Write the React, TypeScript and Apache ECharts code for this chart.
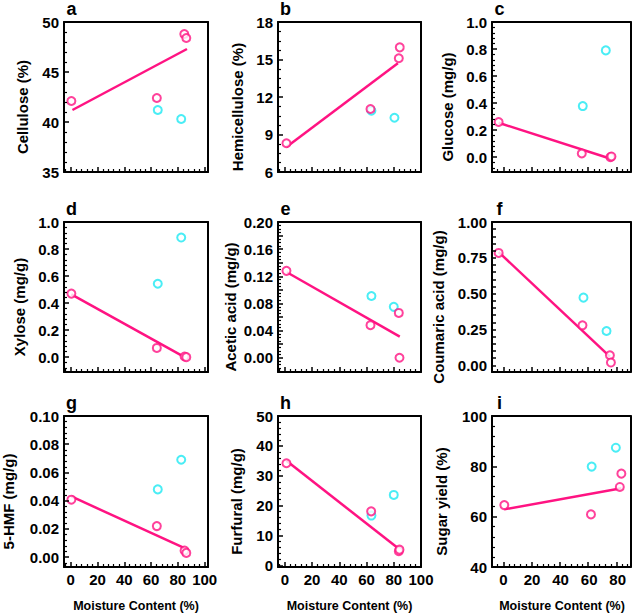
import React, { useEffect, useRef } from 'react';
import * as echarts from 'echarts';

const PINK = '#FF1382';
const CYAN = '#1DE9F2';
const FONT = "'Liberation Sans', Arial, Helvetica, sans-serif";

// ---- Data ----
const xName = 'Moisture Content (%)';
const xTickLabels = [0, 20, 40, 60, 80, 100];

// a  Cellulose
const aPinkX = [0.5, 64.3, 84.8, 86.3];
const aPinkY = [42.1, 42.4, 48.8, 48.4];
const aCyanX = [65, 82.5];
const aCyanY = [41.2, 40.3];
const aFitX = [1.3, 86.8];
const aFitY = [41.2, 47.3];
const aTicks = [35, 40, 45, 50];

// b  Hemicellulose
const bPinkX = [1.2, 62.9, 83.7, 84.4];
const bPinkY = [8.3, 11.04, 15.1, 15.97];
const bCyanX = [63.6, 80.5];
const bCyanY = [10.9, 10.34];
const bFitX = [1.2, 83];
const bFitY = [8.0, 14.7];
const bTicks = [6, 9, 12, 15, 18];

// c  Glucose
const cPinkX = [-3.3, 55.5, 75.8, 76.5];
const cPinkY = [0.26, 0.027, 0.0, 0.005];
const cCyanX = [56.2, 72.5];
const cCyanY = [0.378, 0.79];
const cFitX = [-3.3, 75.4];
const cFitY = [0.254, -0.01];
const cTicks = [0.0, 0.2, 0.4, 0.6, 0.8, 1.0];

// d  Xylose
const dPinkX = [0.5, 64.3, 85, 86.3];
const dPinkY = [0.47, 0.068, 0.005, 0.0];
const dCyanX = [65, 82.5];
const dCyanY = [0.543, 0.885];
const dFitX = [0.5, 85];
const dFitY = [0.464, 0.0];
const dTicks = [0.0, 0.2, 0.4, 0.6, 0.8, 1.0];

// e  Acetic acid
const ePinkX = [1.2, 62.9, 83.7, 84.2];
const ePinkY = [0.128, 0.048, 0.066, 0.0];
const eCyanX = [63.6, 80];
const eCyanY = [0.091, 0.075];
const eFitX = [1.5, 84.4];
const eFitY = [0.126, 0.031];
const eTicks = [0.0, 0.04, 0.08, 0.12, 0.16, 0.2];

// f  Coumaric acid
const fPinkX = [-3.3, 56, 75.4, 76.1];
const fPinkY = [0.784, 0.279, 0.07, 0.019];
const fCyanX = [56.7, 73];
const fCyanY = [0.472, 0.239];
const fFitX = [-3.3, 75.4];
const fFitY = [0.79, 0.06];
const fTicks = [0.0, 0.25, 0.5, 0.75, 1.0];

// g  5-HMF
const gPinkX = [0.5, 64.3, 85, 86.3];
const gPinkY = [0.0407, 0.022, 0.0046, 0.003];
const gCyanX = [65, 82.5];
const gCyanY = [0.048, 0.069];
const gFitX = [0.5, 85];
const gFitY = [0.043, 0.0063];
const gTicks = [0.0, 0.02, 0.04, 0.06, 0.08, 0.1];

// h  Furfural
const hPinkX = [1.2, 63.4, 83.7, 84.2];
const hPinkY = [34.2, 18.1, 4.8, 5.3];
const hCyanX = [63.6, 80];
const hCyanY = [16.7, 23.6];
const hFitX = [1.2, 83.7];
const hFitY = [35, 5.6];
const hTicks = [0, 10, 20, 30, 40, 50];

// i  Sugar yield
const iPinkX = [0.7, 62, 82.4, 83.5];
const iPinkY = [64.6, 60.9, 71.8, 77.1];
const iCyanX = [62.5, 79.6];
const iCyanY = [79.9, 87.4];
const iFitX = [0.7, 83.5];
const iFitY = [62.9, 71.3];
const iTicks = [40, 60, 80, 100];

const zip = (xs: number[], ys: number[]) => xs.map((x, k) => [x, ys[k]]);

type Panel = {
  letter: string; yName: string;
  pinkX: number[]; pinkY: number[]; cyanX: number[]; cyanY: number[];
  fitX: number[]; fitY: number[]; ticks: number[];
  yMin: number; yMax: number; dec: number; nameGap: number;
  split: number; minor: number;
};

const panels: Panel[] = [
  { letter: 'a', yName: 'Cellulose (%)', pinkX: aPinkX, pinkY: aPinkY, cyanX: aCyanX, cyanY: aCyanY, fitX: aFitX, fitY: aFitY, ticks: aTicks, yMin: 35, yMax: 50, dec: 0, nameGap: 34.5, split: 3, minor: 5 },
  { letter: 'b', yName: 'Hemicellulose (%)', pinkX: bPinkX, pinkY: bPinkY, cyanX: bCyanX, cyanY: bCyanY, fitX: bFitX, fitY: bFitY, ticks: bTicks, yMin: 6, yMax: 18, dec: 0, nameGap: 33, split: 4, minor: 4 },
  { letter: 'c', yName: 'Glucose (mg/g)', pinkX: cPinkX, pinkY: cPinkY, cyanX: cCyanX, cyanY: cCyanY, fitX: cFitX, fitY: cFitY, ticks: cTicks, yMin: -0.11, yMax: 1.0, dec: 1, nameGap: 37.5, split: 5, minor: 5 },
  { letter: 'd', yName: 'Xylose (mg/g)', pinkX: dPinkX, pinkY: dPinkY, cyanX: dCyanX, cyanY: dCyanY, fitX: dFitX, fitY: dFitY, ticks: dTicks, yMin: -0.11, yMax: 1.0, dec: 1, nameGap: 37, split: 5, minor: 5 },
  { letter: 'e', yName: 'Acetic acid (mg/g)', pinkX: ePinkX, pinkY: ePinkY, cyanX: eCyanX, cyanY: eCyanY, fitX: eFitX, fitY: eFitY, ticks: eTicks, yMin: -0.021, yMax: 0.2, dec: 2, nameGap: 39.7, split: 10, minor: 4 },
  { letter: 'f', yName: 'Coumaric acid (mg/g)', pinkX: fPinkX, pinkY: fPinkY, cyanX: fCyanX, cyanY: fCyanY, fitX: fFitX, fitY: fFitY, ticks: fTicks, yMin: -0.047, yMax: 1.0, dec: 2, nameGap: 46, split: 20, minor: 0 },
  { letter: 'g', yName: '5-HMF (mg/g)', pinkX: gPinkX, pinkY: gPinkY, cyanX: gCyanX, cyanY: gCyanY, fitX: gFitX, fitY: gFitY, ticks: gTicks, yMin: -0.007, yMax: 0.1, dec: 2, nameGap: 48, split: 5, minor: 5 },
  { letter: 'h', yName: 'Furfural (mg/g)', pinkX: hPinkX, pinkY: hPinkY, cyanX: hCyanX, cyanY: hCyanY, fitX: hFitX, fitY: hFitY, ticks: hTicks, yMin: -0.5, yMax: 50, dec: 0, nameGap: 34, split: 5, minor: 5 },
  { letter: 'i', yName: 'Sugar yield (%)', pinkX: iPinkX, pinkY: iPinkY, cyanX: iCyanX, cyanY: iCyanY, fitX: iFitX, fitY: iFitY, ticks: iTicks, yMin: 40, yMax: 100, dec: 0, nameGap: 43, split: 3, minor: 5 },
];

// ---- Layout ----
const colLeft = [64, 278, 492];
const colWidth = [144, 143, 140];
const rowTop = [22, 222, 416];
const rowHeight = [150, 150, 151];
const colXRange = [[-5, 102.5], [-5, 100], [-8, 90]];

function buildOption() {
  const grid: any[] = [];
  const xAxis: any[] = [];
  const yAxis: any[] = [];
  const series: any[] = [];
  const graphic: any[] = [];
  const labelStyle = { color: '#000', fontSize: 15, fontWeight: 'bold', fontFamily: FONT };
  const hiddenLabel = { show: true, color: 'rgba(0,0,0,0)', fontSize: 8, margin: 4 };
  const frameLine = { color: '#000', width: 2 };
  const tickLine = { color: '#000', width: 1.5 };
  const minorLine = { color: '#000', width: 1.2 };

  panels.forEach((p, idx) => {
    const row = Math.floor(idx / 3);
    const col = idx % 3;
    const [xMin, xMax] = colXRange[col];
    const rect = { left: colLeft[col], top: rowTop[row], width: colWidth[col], height: rowHeight[row] };
    const gA = idx * 2; // ticks, frame, series
    const gB = idx * 2 + 1; // tick labels and names
    grid.push({ ...rect, show: false });
    grid.push({ ...rect, show: false });

    // x axes: [tick axis (bottom), frame (top)] on grid A, label axis on grid B
    xAxis.push({
      type: 'value', gridIndex: gA, min: xMin, max: xMax, splitNumber: 5, position: 'bottom', z: 5,
      axisLine: { show: true, onZero: false, lineStyle: frameLine },
      axisTick: { show: true, inside: true, length: 5, lineStyle: tickLine },
      minorTick: { show: true, splitNumber: 5, length: 3, lineStyle: minorLine },
      axisLabel: hiddenLabel,
      splitLine: { show: false }, minorSplitLine: { show: false },
    });
    xAxis.push({
      type: 'value', gridIndex: gA, min: xMin, max: xMax, position: 'top', z: 5,
      axisLine: { show: true, onZero: false, lineStyle: frameLine },
      axisTick: { show: false }, axisLabel: { show: false }, splitLine: { show: false },
    });
    xAxis.push({
      type: 'value', gridIndex: gB, min: xMin, max: xMax, position: 'bottom', z: 5,
      axisLine: { show: false, onZero: false },
      axisTick: { show: false },
      axisLabel: {
        show: row === 2, margin: 5, ...labelStyle,
        customValues: xTickLabels.filter((v) => v >= xMin && v <= xMax),
        formatter: (v: number) => String(Math.round(v)),
      },
      splitLine: { show: false },
      name: row === 2 ? xName : '', nameLocation: 'middle', nameGap: 32, nameMoveOverlap: false,
      nameTextStyle: { color: '#000', fontSize: 12.5, fontWeight: 'bold', fontFamily: FONT },
    });

    // y axes: [tick axis (left), frame (right)] on grid A, label axis on grid B
    yAxis.push({
      type: 'value', gridIndex: gA, min: p.yMin, max: p.yMax, splitNumber: p.split, position: 'left', z: 5,
      axisLine: { show: true, onZero: false, lineStyle: frameLine },
      axisTick: { show: true, inside: true, length: p.minor ? 5 : 4, lineStyle: tickLine },
      minorTick: { show: p.minor > 0, splitNumber: p.minor || 5, length: 3, lineStyle: minorLine },
      axisLabel: hiddenLabel,
      splitLine: { show: false }, minorSplitLine: { show: false },
    });
    yAxis.push({
      type: 'value', gridIndex: gA, min: p.yMin, max: p.yMax, position: 'right', z: 5,
      axisLine: { show: true, onZero: false, lineStyle: frameLine },
      axisTick: { show: false }, axisLabel: { show: false }, splitLine: { show: false },
    });
    yAxis.push({
      type: 'value', gridIndex: gB, min: p.yMin, max: p.yMax, position: 'left', z: 5,
      axisLine: { show: false, onZero: false },
      axisTick: { show: false },
      axisLabel: {
        show: true, margin: 5, ...labelStyle,
        customValues: p.ticks,
        formatter: (v: number) => Number(v).toFixed(p.dec),
      },
      splitLine: { show: false },
      name: p.yName, nameLocation: 'middle', nameGap: p.nameGap, nameMoveOverlap: false,
      nameTextStyle: { color: '#000', fontSize: 15, fontWeight: 'bold', fontFamily: FONT, padding: [0, 20, 0, 0] },
    });

    const xi = idx * 3;
    const yi = idx * 3;
    series.push({
      type: 'scatter', xAxisIndex: xi, yAxisIndex: yi, data: zip(p.cyanX, p.cyanY),
      symbol: 'circle', symbolSize: 8,
      itemStyle: { color: '#fff', borderColor: CYAN, borderWidth: 2 }, z: 2,
    });
    series.push({
      type: 'line', xAxisIndex: xi, yAxisIndex: yi, data: zip(p.fitX, p.fitY),
      symbol: 'none', lineStyle: { color: PINK, width: 2.5 }, z: 3,
    });
    series.push({
      type: 'scatter', xAxisIndex: xi, yAxisIndex: yi, data: zip(p.pinkX, p.pinkY),
      symbol: 'circle', symbolSize: 8,
      itemStyle: { color: '#fff', borderColor: PINK, borderWidth: 2 }, z: 4,
    });
    graphic.push({
      type: 'text', x: colLeft[col] + 7.5, y: rowTop[row] - 13,
      style: {
        text: p.letter, fill: '#000', font: `bold 18px ${FONT}`,
        textAlign: 'center', textVerticalAlign: 'middle', align: 'center', verticalAlign: 'middle',
      },
    });
  });

  return { animation: false, backgroundColor: '#fff', grid, xAxis, yAxis, series, graphic };
}

export default function App() {
  const ref = useRef<HTMLDivElement>(null);
  useEffect(() => {
    const chart = echarts.init(ref.current as HTMLDivElement, null, { renderer: 'svg' });
    chart.setOption(buildOption() as any);
    return () => chart.dispose();
  }, []);
  return (
    <div
      ref={ref}
      style={{ position: 'fixed', left: 0, top: 0, width: 638, height: 616, background: '#fff' }}
    />
  );
}
